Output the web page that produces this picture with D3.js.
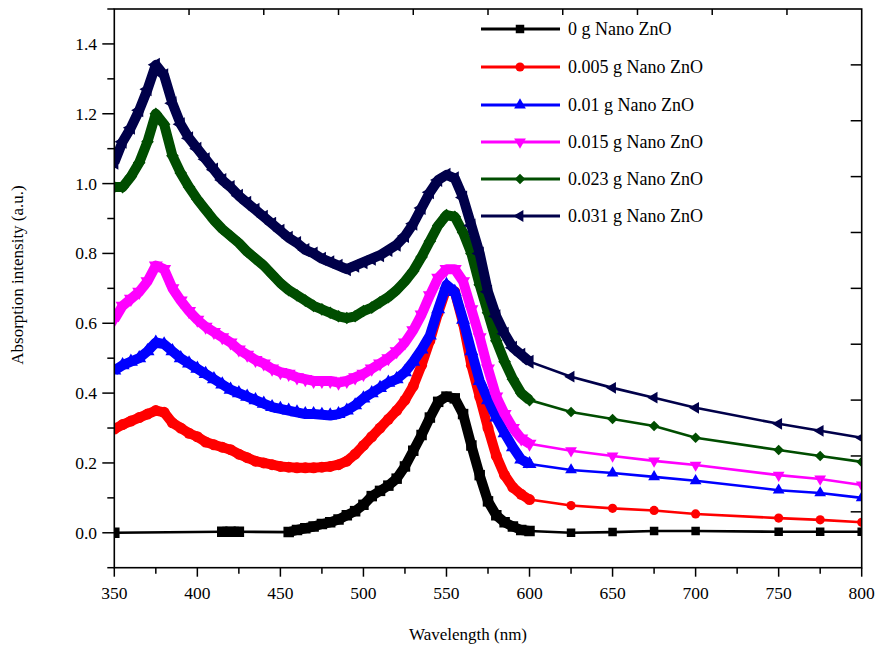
<!DOCTYPE html>
<html><head><meta charset="utf-8">
<script src="https://cdn.jsdelivr.net/npm/d3@7"></script>
<style>body{margin:0;background:#fff;} text{font-family:"Liberation Serif","Times New Roman",Times,"DejaVu Serif",serif;}</style>
</head><body>
<svg id="c" width="877" height="646"></svg>
<script>
const wavelengths = [350,355,360,365,370,375,380,385,390,395,400,405,410,415,420,425,430,435,440,445,450,455,460,465,470,475,480,485,490,495,500,505,510,515,520,525,530,535,540,545,550,555,560,565,570,575,580,585,590,595,600];
const tailWavelengths = [625,650,675,700,750,775,800];

const seriesNames = ["0 g Nano ZnO","0.005 g Nano ZnO","0.01 g Nano ZnO","0.015 g Nano ZnO","0.023 g Nano ZnO","0.031 g Nano ZnO"];

const zno0 = [0.0,null,null,null,null,null,null,null,null,null,null,null,null,0.003,0.003,0.003,null,null,null,null,null,0.002,0.008,0.013,0.018,0.025,0.03,0.038,0.05,0.062,0.08,0.105,0.12,0.135,0.155,0.19,0.235,0.28,0.33,0.375,0.39,0.385,0.34,0.25,0.165,0.09,0.05,0.03,0.018,0.008,0.005];
const zno0Tail = [0.0,0.002,0.005,0.005,0.003,0.003,0.003];

const zno005 = [0.297,0.31,0.32,0.33,0.34,0.35,0.345,0.315,0.30,0.285,0.275,0.26,0.252,0.245,0.238,0.225,0.215,0.205,0.20,0.195,0.19,0.188,0.186,0.186,0.186,0.188,0.19,0.195,0.205,0.225,0.25,0.275,0.30,0.325,0.35,0.38,0.42,0.48,0.55,0.63,0.70,0.69,0.60,0.48,0.39,0.30,0.22,0.165,0.13,0.11,0.095];
const zno005Tail = [0.078,0.07,0.064,0.054,0.042,0.037,0.03];

const zno01 = [0.465,0.48,0.49,0.50,0.52,0.545,0.54,0.52,0.50,0.485,0.47,0.455,0.44,0.425,0.41,0.40,0.39,0.38,0.37,0.36,0.355,0.35,0.345,0.34,0.34,0.338,0.336,0.34,0.35,0.365,0.385,0.40,0.415,0.43,0.44,0.46,0.49,0.525,0.565,0.64,0.71,0.69,0.61,0.52,0.435,0.38,0.33,0.285,0.245,0.21,0.197];
const zno01Tail = [0.18,0.171,0.16,0.149,0.122,0.114,0.10];

const zno015 = [0.61,0.65,0.67,0.69,0.72,0.765,0.755,0.70,0.665,0.635,0.61,0.59,0.575,0.56,0.545,0.525,0.51,0.495,0.485,0.47,0.46,0.455,0.445,0.44,0.435,0.435,0.435,0.43,0.435,0.445,0.455,0.47,0.485,0.50,0.52,0.545,0.58,0.625,0.68,0.73,0.755,0.755,0.72,0.64,0.56,0.47,0.39,0.34,0.30,0.27,0.255];
const zno015Tail = [0.235,0.22,0.206,0.194,0.165,0.154,0.137];

const zno023 = [0.99,0.99,1.02,1.06,1.12,1.20,1.17,1.08,1.03,0.99,0.955,0.925,0.895,0.87,0.85,0.83,0.805,0.785,0.765,0.74,0.715,0.695,0.68,0.665,0.65,0.64,0.63,0.62,0.615,0.62,0.635,0.645,0.66,0.675,0.695,0.72,0.75,0.79,0.835,0.88,0.91,0.905,0.86,0.80,0.71,0.63,0.55,0.49,0.44,0.40,0.38];
const zno023Tail = [0.346,0.326,0.306,0.272,0.237,0.22,0.203];

const zno031 = [1.06,1.12,1.16,1.21,1.27,1.34,1.31,1.23,1.17,1.13,1.10,1.07,1.04,1.01,0.99,0.965,0.945,0.925,0.905,0.885,0.865,0.845,0.83,0.81,0.80,0.785,0.775,0.765,0.755,0.765,0.775,0.785,0.795,0.81,0.825,0.85,0.885,0.93,0.975,1.01,1.025,1.015,0.96,0.88,0.80,0.69,0.62,0.57,0.53,0.51,0.49];
const zno031Tail = [0.447,0.415,0.387,0.358,0.312,0.292,0.272];

const xTickValues = [350,400,450,500,550,600,650,700,750,800];
const yTickValues = [0.0,0.2,0.4,0.6,0.8,1.0,1.2,1.4];

const colors = ["#000000","#ff0000","#0000ff","#ff00ff","#004d00","#00004a"];
const denseData = [zno0,zno005,zno01,zno015,zno023,zno031];
const tailData = [zno0Tail,zno005Tail,zno01Tail,zno015Tail,zno023Tail,zno031Tail];

const FONT = "'Liberation Serif','Times New Roman',Times,'DejaVu Serif',serif";
const svg = d3.select("#c");
const L=114.3, R=861.7, T=9, B=567.7;
const x = d3.scaleLinear().domain([350,800]).range([L,R]);
const y = d3.scaleLinear().domain([-0.1,1.5]).range([B,T]);

const sq = d3.symbol().type(d3.symbolSquare).size(110)();
const ci = d3.symbol().type(d3.symbolCircle).size(95)();
const tri = d3.symbol().type(d3.symbolTriangle).size(85)();
const dia = d3.symbol().type(d3.symbolSquare).size(80)();
const shapes = [
  {p:sq, r:0},{p:ci, r:0},{p:tri, r:0},{p:tri, r:180},{p:dia, r:45},{p:tri, r:-90}
];
const sqL = d3.symbol().type(d3.symbolSquare).size(72)();
const ciL = d3.symbol().type(d3.symbolCircle).size(66)();
const triL = d3.symbol().type(d3.symbolTriangle).size(60)();
const diaL = d3.symbol().type(d3.symbolSquare).size(56)();
const shapesSmall = [
  {p:sqL, r:0},{p:ciL, r:0},{p:triL, r:0},{p:triL, r:180},{p:diaL, r:45},{p:triL, r:-90}
];

const plot = svg.append("g");
plot.append("clipPath").attr("id","clip").append("rect").attr("x",L).attr("y",T).attr("width",R-L).attr("height",B-T);
const g = plot.append("g").attr("clip-path","url(#clip)");

denseData.forEach((dense,si)=>{
  const pts = wavelengths.map((w,i)=>({w, v:dense[i], dense:true}))
    .concat(tailWavelengths.map((w,i)=>({w, v:tailData[si][i], dense:false})));
  const valid = pts.filter(d=>d.v!=null);
  const col = colors[si];
  const sg = g.append("g");
  sg.append("path").datum(valid)
    .attr("d", d3.line().x(d=>x(d.w)).y(d=>y(d.v)))
    .attr("fill","none").attr("stroke",col).attr("stroke-width",2.6);
  sg.append("path").datum(pts.filter(d=>d.dense))
    .attr("d", d3.line().defined(d=>d.v!=null).x(d=>x(d.w)).y(d=>y(d.v)))
    .attr("fill","none").attr("stroke",col).attr("stroke-width",10)
    .attr("stroke-linejoin","round").attr("stroke-linecap","butt");
  sg.selectAll("path.m").data(valid).enter().append("path").attr("class","m")
    .attr("d", d=> d.dense ? shapes[si].p : shapesSmall[si].p).attr("fill",col)
    .attr("transform", d=>`translate(${x(d.w)},${y(d.v)}) rotate(${shapes[si].r})`);
});

const ax = svg.append("g").attr("stroke","#000").attr("fill","none");
ax.append("rect").attr("x",L).attr("y",T).attr("width",R-L).attr("height",B-T).attr("stroke-width",1.6);

const xMinor = [375,425,475,525,575,625,675,725,775];
xTickValues.forEach(v=>ax.append("line").attr("x1",x(v)).attr("x2",x(v)).attr("y1",B).attr("y2",B+9).attr("stroke-width",1.5));
xMinor.forEach(v=>ax.append("line").attr("x1",x(v)).attr("x2",x(v)).attr("y1",B).attr("y2",B+6).attr("stroke-width",1.5));
yTickValues.forEach(v=>ax.append("line").attr("x1",L-12).attr("x2",L).attr("y1",y(v)).attr("y2",y(v)).attr("stroke-width",1.5));
[-0.1,0.1,0.3,0.5,0.7,0.9,1.1,1.3,1.5].forEach(v=>ax.append("line").attr("x1",L-7).attr("x2",L).attr("y1",y(v)).attr("y2",y(v)).attr("stroke-width",1.5));
[395,440,485,530,575,620,665,710,755].forEach(v=>ax.append("line").attr("x1",x(v)).attr("x2",x(v)).attr("y1",T).attr("y2",T+6).attr("stroke-width",1.5));
[0.06,0.22,0.38,0.54,0.70,0.86,1.02,1.18,1.34].forEach(v=>ax.append("line").attr("x1",R-11).attr("x2",R).attr("y1",y(v)).attr("y2",y(v)).attr("stroke-width",1.5));

const tl = svg.append("g").attr("font-size","17.5px").attr("fill","#000").attr("font-family",FONT);
xTickValues.forEach(v=>tl.append("text").attr("x",x(v)).attr("y",599).attr("text-anchor","middle").attr("font-family",FONT).text(v));
yTickValues.forEach(v=>tl.append("text").attr("x",97).attr("y",y(v)+6).attr("text-anchor","end").attr("font-family",FONT).text(v.toFixed(1)));

svg.append("text").attr("x",468).attr("y",640).attr("text-anchor","middle").attr("font-size","17px").attr("font-family",FONT).text("Wavelength (nm)");
svg.append("text").attr("transform","translate(23,275) rotate(-90)").attr("text-anchor","middle").attr("font-size","17px").attr("font-family",FONT).text("Absorption intensity (a.u.)");

const legY = [29,67,105,142,179,216];
seriesNames.forEach((n,i)=>{
  const lg = svg.append("g");
  lg.append("line").attr("x1",481).attr("x2",560).attr("y1",legY[i]).attr("y2",legY[i]).attr("stroke",colors[i]).attr("stroke-width",3);
  lg.append("path").attr("d",shapesSmall[i].p).attr("fill",colors[i]).attr("transform",`translate(520,${legY[i]}) rotate(${shapes[i].r})`);
  lg.append("text").attr("x",568).attr("y",legY[i]+6).attr("font-size","18px").attr("font-family",FONT).text(n);
});
</script>
</body></html>
